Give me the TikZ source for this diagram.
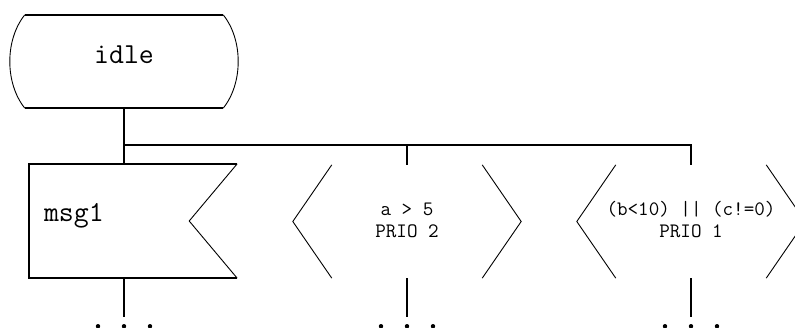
\documentclass[tikz,border=0pt]{standalone}
\usepackage{fontspec}
\usepackage{tikz}
\usetikzlibrary{positioning}

\tikzset{
  thickline/.style={line width=1.8pt},
  thinline/.style={line width=0.9pt},
  bigtext/.style={font=\ttfamily\fontsize{29}{34}\selectfont},
  smalltext/.style={font=\ttfamily\fontsize{20.5}{22}\selectfont},
  signal/.style={smalltext, align=center, inner sep=0, minimum width=228, minimum height=113, text height=36pt, text depth=5pt},
}

\begin{document}
\begin{tikzpicture}[x=1pt, y=-1pt]
    \useasboundingbox (0,0) rectangle (795,327);

    % state
    \node [bigtext, inner sep=0, minimum width=198, minimum height=93, text height=15pt, text depth=12pt] (idle) at (124,61.5) {idle};
    \draw [thickline] (idle.north west) -- (idle.north east);
    \draw [thickline] (idle.south west) -- (idle.south east);
    \draw [thinline] (idle.north west) .. controls +(-20,25) and +(-20,-25) .. (idle.south west);
    \draw [thinline] (idle.north east) .. controls +(20,25) and +(20,-25) .. (idle.south east);

    % input and continuous signals
    \node [bigtext, inner xsep=15, inner ysep=0, text width=178, align=left, minimum height=114, text height=14pt, text depth=14pt] (msg1) at (133,221) {msg1};
    \node [signal] (prio2) at (407,221.5) {a > 5\\PRIO 2};
    \node [signal] (prio1) at (691,221.5) {(b<10) || (c!=0)\\PRIO 1};

    \draw [thickline] (msg1.north east) -- (msg1.north west) -- (msg1.south west) -- (msg1.south east);
    \draw [thinline] (msg1.north east) -- ([xshift=-48]msg1.east) -- (msg1.south east);
    \foreach \s in {prio2,prio1} {
        \draw [thinline] ([xshift=39]\s.north west) -- (\s.west) -- ([xshift=39]\s.south west);
        \draw [thinline] ([xshift=-39]\s.north east) -- (\s.east) -- ([xshift=-39]\s.south east);
    }

    % connectors
    \coordinate (fork) at (idle.south |- 0,145);
    \draw [thickline] (idle.south) -- (idle.south |- msg1.north);
    \draw [thickline] (fork) -| (prio1.north);
    \draw [thickline] (fork -| prio2.north) -- (prio2.north);

    \coordinate (msg1-out) at (idle.south |- msg1.south);
    \coordinate (prio2-out) at (prio2.south);
    \coordinate (prio1-out) at (prio1.south);
    \foreach \s in {msg1,prio2,prio1} {
        \coordinate [below=39pt of \s-out] (\s-end);
        \draw [thickline] (\s-out) -- (\s-end);
        \foreach \dx in {-26,0,26}
            \fill ([xshift=\dx, yshift=-9]\s-end) circle (2.2);
    }
\end{tikzpicture}
\end{document}
